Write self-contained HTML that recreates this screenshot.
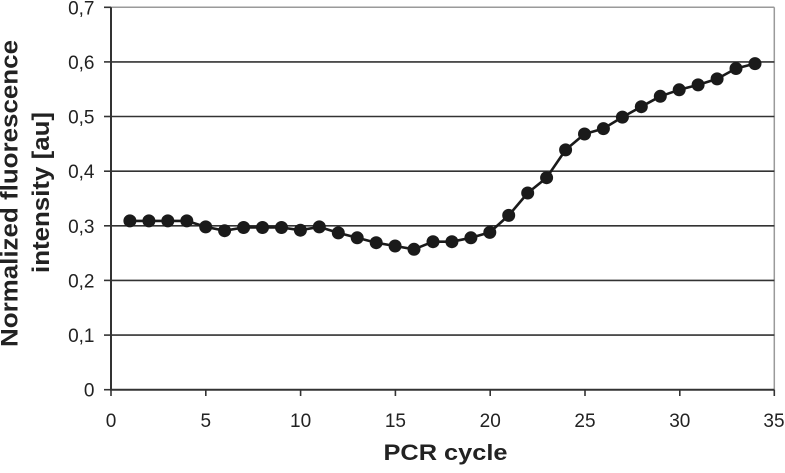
<!DOCTYPE html>
<html>
<head>
<meta charset="utf-8">
<style>
html,body{margin:0;padding:0;background:#fff;}
svg{display:block;}
text{font-family:"Liberation Sans",Arial,sans-serif;fill:#222;}
</style>
</head>
<body>
<svg width="785" height="473" viewBox="0 0 785 473" xmlns="http://www.w3.org/2000/svg">
  <line x1="111" y1="7.3" x2="774.3" y2="7.3" stroke="#9a9a9a" stroke-width="1.5"/>
  <line x1="774.3" y1="7.3" x2="774.3" y2="389.7" stroke="#9a9a9a" stroke-width="1.5"/>
  <g stroke="#333" stroke-width="1.6">
    <line x1="111" y1="61.9" x2="774.3" y2="61.9"/>
    <line x1="111" y1="116.5" x2="774.3" y2="116.5"/>
    <line x1="111" y1="171.2" x2="774.3" y2="171.2"/>
    <line x1="111" y1="225.8" x2="774.3" y2="225.8"/>
    <line x1="111" y1="280.4" x2="774.3" y2="280.4"/>
    <line x1="111" y1="335.1" x2="774.3" y2="335.1"/>
  </g>
  <g stroke="#333" stroke-width="2">
    <line x1="111" y1="7.3" x2="111" y2="390"/>
    <line x1="110" y1="389.7" x2="774.3" y2="389.7"/>
  </g>
  <g stroke="#333" stroke-width="1.6">
    <line x1="104" y1="7.3" x2="111" y2="7.3"/>
    <line x1="104" y1="61.9" x2="111" y2="61.9"/>
    <line x1="104" y1="116.5" x2="111" y2="116.5"/>
    <line x1="104" y1="171.2" x2="111" y2="171.2"/>
    <line x1="104" y1="225.8" x2="111" y2="225.8"/>
    <line x1="104" y1="280.4" x2="111" y2="280.4"/>
    <line x1="104" y1="335.1" x2="111" y2="335.1"/>
    <line x1="104" y1="389.7" x2="111" y2="389.7"/>
  </g>
  <g stroke="#333" stroke-width="1.6">
    <line x1="111" y1="389.7" x2="111" y2="396"/>
    <line x1="205.8" y1="389.7" x2="205.8" y2="396"/>
    <line x1="300.6" y1="389.7" x2="300.6" y2="396"/>
    <line x1="395.4" y1="389.7" x2="395.4" y2="396"/>
    <line x1="490.2" y1="389.7" x2="490.2" y2="396"/>
    <line x1="585" y1="389.7" x2="585" y2="396"/>
    <line x1="679.8" y1="389.7" x2="679.8" y2="396"/>
    <line x1="774.3" y1="389.7" x2="774.3" y2="396"/>
  </g>
  <g font-size="19" text-anchor="end">
    <text x="94.5" y="14.3">0,7</text>
    <text x="94.5" y="68.9">0,6</text>
    <text x="94.5" y="123.5">0,5</text>
    <text x="94.5" y="178.2">0,4</text>
    <text x="94.5" y="232.8">0,3</text>
    <text x="94.5" y="287.4">0,2</text>
    <text x="94.5" y="342.1">0,1</text>
    <text x="94.5" y="396.7">0</text>
  </g>
  <g font-size="19" text-anchor="middle">
    <text x="111" y="427">0</text>
    <text x="205.8" y="427">5</text>
    <text x="300.6" y="427">10</text>
    <text x="395.4" y="427">15</text>
    <text x="490.2" y="427">20</text>
    <text x="585" y="427">25</text>
    <text x="679.8" y="427">30</text>
    <text x="774" y="427">35</text>
  </g>
  <text x="445.5" y="460" font-size="22" font-weight="bold" text-anchor="middle" textLength="124" lengthAdjust="spacingAndGlyphs">PCR cycle</text>
  <text transform="translate(17.5,193.5) rotate(-90)" font-size="24" font-weight="bold" text-anchor="middle" textLength="307" lengthAdjust="spacingAndGlyphs">Normalized fluorescence</text>
  <text transform="translate(49,192.5) rotate(-90)" font-size="24" font-weight="bold" text-anchor="middle" textLength="161" lengthAdjust="spacingAndGlyphs">intensity [au]</text>
  <polyline fill="none" stroke="#1a1a1a" stroke-width="2.6" stroke-linejoin="round" stroke-linecap="round"
    points="129.9,220.9 148.9,220.9 167.8,220.9 186.8,220.9 205.7,226.9 224.6,230.7 243.6,227.5 262.5,227.5 281.5,227.5 300.4,230.2 319.3,226.9 338.3,232.9 357.2,237.8 376.2,242.7 395.1,246.0 414.0,249.3 433.0,241.7 451.9,241.7 470.9,237.8 489.8,232.4 508.7,215.4 527.7,193.0 546.6,177.7 565.6,149.9 584.5,134.0 603.4,128.6 622.4,117.1 641.3,106.7 660.3,96.3 679.2,89.8 698.1,84.9 717.1,78.9 736.0,68.5 755.0,63.6"/>
  <g fill="#1a1a1a">
    <circle cx="129.9" cy="220.9" r="6.5"/>
    <circle cx="148.9" cy="220.9" r="6.5"/>
    <circle cx="167.8" cy="220.9" r="6.5"/>
    <circle cx="186.8" cy="220.9" r="6.5"/>
    <circle cx="205.7" cy="226.9" r="6.5"/>
    <circle cx="224.6" cy="230.7" r="6.5"/>
    <circle cx="243.6" cy="227.5" r="6.5"/>
    <circle cx="262.5" cy="227.5" r="6.5"/>
    <circle cx="281.5" cy="227.5" r="6.5"/>
    <circle cx="300.4" cy="230.2" r="6.5"/>
    <circle cx="319.3" cy="226.9" r="6.5"/>
    <circle cx="338.3" cy="232.9" r="6.5"/>
    <circle cx="357.2" cy="237.8" r="6.5"/>
    <circle cx="376.2" cy="242.7" r="6.5"/>
    <circle cx="395.1" cy="246.0" r="6.5"/>
    <circle cx="414.0" cy="249.3" r="6.5"/>
    <circle cx="433.0" cy="241.7" r="6.5"/>
    <circle cx="451.9" cy="241.7" r="6.5"/>
    <circle cx="470.9" cy="237.8" r="6.5"/>
    <circle cx="489.8" cy="232.4" r="6.5"/>
    <circle cx="508.7" cy="215.4" r="6.5"/>
    <circle cx="527.7" cy="193.0" r="6.5"/>
    <circle cx="546.6" cy="177.7" r="6.5"/>
    <circle cx="565.6" cy="149.9" r="6.5"/>
    <circle cx="584.5" cy="134.0" r="6.5"/>
    <circle cx="603.4" cy="128.6" r="6.5"/>
    <circle cx="622.4" cy="117.1" r="6.5"/>
    <circle cx="641.3" cy="106.7" r="6.5"/>
    <circle cx="660.3" cy="96.3" r="6.5"/>
    <circle cx="679.2" cy="89.8" r="6.5"/>
    <circle cx="698.1" cy="84.9" r="6.5"/>
    <circle cx="717.1" cy="78.9" r="6.5"/>
    <circle cx="736.0" cy="68.5" r="6.5"/>
    <circle cx="755.0" cy="63.6" r="6.5"/>
  </g>
</svg>
</body>
</html>
